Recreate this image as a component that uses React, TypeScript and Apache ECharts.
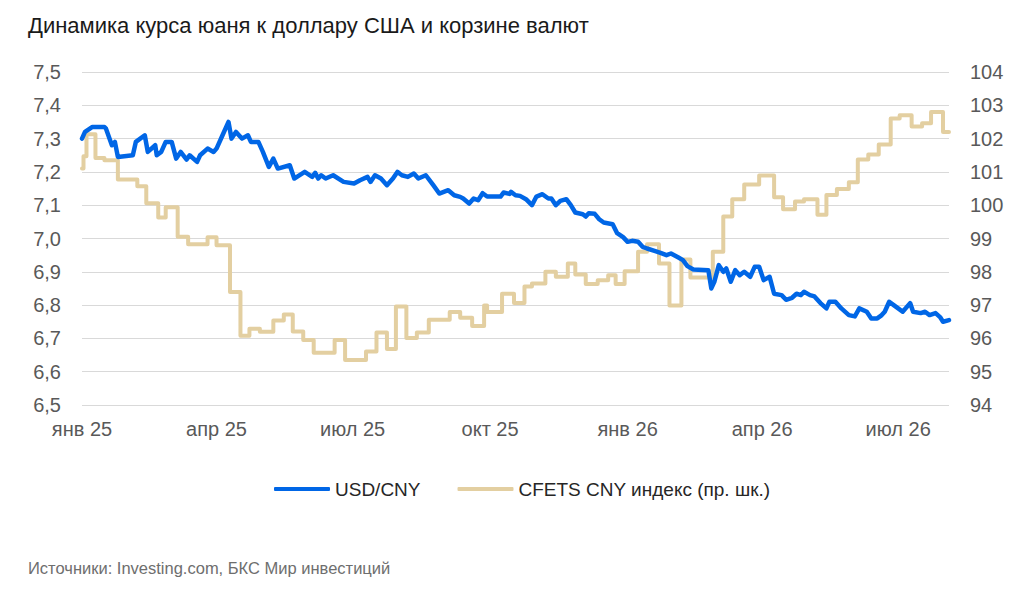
import React, { useEffect, useRef } from "react";
import * as echarts from "echarts";

const FONT = "'Liberation Sans', Arial, Helvetica, sans-serif";

const TITLE = "Динамика курса юаня к доллару США и корзине валют";
const SOURCE = "Источники: Investing.com, БКС Мир инвестиций";
const SERIES_NAMES = ["USD/CNY", "CFETS CNY индекс (пр. шк.)"];

const AXIS_START = "2025-01-01";
const AXIS_END = "2026-08-04";

const tickDates = ["2025-01-01", "2025-04-01", "2025-07-01", "2025-10-01", "2026-01-01", "2026-04-01", "2026-07-01"];
const tickLabels = ["янв 25", "апр 25", "июл 25", "окт 25", "янв 26", "апр 26", "июл 26"];

const usdDates = [
  "2025-01-01", "2025-01-03", "2025-01-08", "2025-01-16", "2025-01-17", "2025-01-21", "2025-01-23", "2025-01-25",
  "2025-02-04", "2025-02-06", "2025-02-12", "2025-02-14", "2025-02-19", "2025-02-20", "2025-02-23", "2025-02-26",
  "2025-03-02", "2025-03-05", "2025-03-08", "2025-03-12", "2025-03-14", "2025-03-19", "2025-03-21", "2025-03-26", "2025-03-30",
  "2025-04-01", "2025-04-05", "2025-04-09", "2025-04-11", "2025-04-14", "2025-04-18", "2025-04-22", "2025-04-24", "2025-04-29",
  "2025-05-02", "2025-05-06", "2025-05-09", "2025-05-12", "2025-05-20", "2025-05-23", "2025-05-30",
  "2025-06-04", "2025-06-06", "2025-06-08", "2025-06-10", "2025-06-13", "2025-06-18", "2025-06-25",
  "2025-07-02", "2025-07-06", "2025-07-11", "2025-07-13", "2025-07-16", "2025-07-20", "2025-07-24", "2025-07-28", "2025-07-31",
  "2025-08-03", "2025-08-07", "2025-08-11", "2025-08-14", "2025-08-19", "2025-08-24", "2025-08-28",
  "2025-09-03", "2025-09-07", "2025-09-11", "2025-09-13", "2025-09-17", "2025-09-20", "2025-09-23", "2025-09-26", "2025-09-29",
  "2025-10-08", "2025-10-10", "2025-10-14", "2025-10-15", "2025-10-18", "2025-10-21", "2025-10-25", "2025-10-29",
  "2025-11-01", "2025-11-05", "2025-11-09", "2025-11-11", "2025-11-14", "2025-11-17", "2025-11-21", "2025-11-24", "2025-11-27",
  "2025-12-02", "2025-12-04", "2025-12-06", "2025-12-10", "2025-12-13", "2025-12-16", "2025-12-22", "2025-12-25", "2025-12-29",
  "2026-01-01", "2026-01-04", "2026-01-08", "2026-01-11", "2026-01-14", "2026-01-19", "2026-01-23", "2026-01-27", "2026-01-30",
  "2026-02-04", "2026-02-07", "2026-02-10", "2026-02-14", "2026-02-24", "2026-02-26", "2026-02-28",
  "2026-03-03", "2026-03-06", "2026-03-08", "2026-03-11", "2026-03-14", "2026-03-17", "2026-03-20", "2026-03-24", "2026-03-27", "2026-03-30",
  "2026-04-02", "2026-04-06", "2026-04-09", "2026-04-14", "2026-04-17", "2026-04-21", "2026-04-24", "2026-04-27", "2026-04-29",
  "2026-05-03", "2026-05-06", "2026-05-10", "2026-05-14", "2026-05-16", "2026-05-20", "2026-05-24", "2026-05-29",
  "2026-06-02", "2026-06-05", "2026-06-10", "2026-06-13", "2026-06-17", "2026-06-20", "2026-06-22", "2026-06-25", "2026-06-28",
  "2026-07-01", "2026-07-04", "2026-07-09", "2026-07-11", "2026-07-16", "2026-07-19", "2026-07-22", "2026-07-26", "2026-07-29", "2026-07-31",
  "2026-08-04",
];
const usdValues = [
  7.30, 7.32, 7.335, 7.335, 7.33, 7.28, 7.29, 7.245,
  7.25, 7.29, 7.31, 7.26, 7.28, 7.25, 7.26, 7.29,
  7.29, 7.24, 7.26, 7.237, 7.25, 7.23, 7.25, 7.27, 7.26,
  7.27, 7.31, 7.35, 7.30, 7.32, 7.30, 7.31, 7.29, 7.29,
  7.26, 7.215, 7.24, 7.21, 7.22, 7.18, 7.20,
  7.185, 7.197, 7.18, 7.19, 7.18, 7.19, 7.17,
  7.165, 7.175, 7.185, 7.17, 7.19, 7.18, 7.16, 7.18, 7.20,
  7.19, 7.185, 7.195, 7.18, 7.19, 7.16, 7.135,
  7.145, 7.13, 7.125, 7.12, 7.105, 7.12, 7.115, 7.136, 7.126,
  7.126, 7.138, 7.134, 7.14, 7.13, 7.128, 7.118, 7.10,
  7.126, 7.133, 7.12, 7.12, 7.10, 7.113, 7.118, 7.10, 7.078,
  7.073, 7.066, 7.076, 7.074, 7.058, 7.048, 7.043, 7.016, 7.004,
  6.99, 6.993, 6.99, 6.975, 6.97, 6.963, 6.957, 6.95, 6.955,
  6.943, 6.935, 6.917, 6.907, 6.905, 6.85, 6.87,
  6.92, 6.90, 6.91, 6.87, 6.905, 6.89, 6.90, 6.885, 6.915, 6.915,
  6.875, 6.885, 6.834, 6.83, 6.816, 6.822, 6.834, 6.83, 6.84,
  6.83, 6.826, 6.806, 6.79, 6.81, 6.81, 6.79, 6.77,
  6.766, 6.79, 6.78, 6.76, 6.76, 6.77, 6.78, 6.81, 6.80,
  6.79, 6.78, 6.806, 6.78, 6.776, 6.78, 6.77, 6.776, 6.764, 6.75,
  6.755,
];

const cfetsDates = [
  "2025-01-01", "2025-01-02", "2025-01-04", "2025-01-10", "2025-01-16", "2025-01-25",
  "2025-02-07", "2025-02-13", "2025-02-21", "2025-02-26",
  "2025-03-06", "2025-03-13", "2025-03-26",
  "2025-04-01", "2025-04-10", "2025-04-17", "2025-04-23", "2025-04-30",
  "2025-05-09", "2025-05-16", "2025-05-22", "2025-05-29",
  "2025-06-05", "2025-06-19", "2025-06-26",
  "2025-07-10", "2025-07-17", "2025-07-24", "2025-07-30",
  "2025-08-06", "2025-08-13", "2025-08-21",
  "2025-09-04", "2025-09-11", "2025-09-19", "2025-09-27", "2025-09-29",
  "2025-10-09", "2025-10-17", "2025-10-24", "2025-10-29",
  "2025-11-07", "2025-11-14", "2025-11-22", "2025-11-27",
  "2025-12-04", "2025-12-12", "2025-12-19", "2025-12-24", "2025-12-30",
  "2026-01-08", "2026-01-14", "2026-01-22", "2026-01-29",
  "2026-02-06", "2026-02-12", "2026-02-27",
  "2026-03-06", "2026-03-12", "2026-03-20", "2026-03-30",
  "2026-04-09", "2026-04-15", "2026-04-23", "2026-04-29",
  "2026-05-08", "2026-05-14", "2026-05-21", "2026-05-29",
  "2026-06-04", "2026-06-11", "2026-06-18", "2026-06-26",
  "2026-07-02", "2026-07-10", "2026-07-17", "2026-07-23", "2026-07-31",
  "2026-08-04",
];
const cfetsValues = [
  101.1, 101.47, 102.13, 101.42, 101.35, 100.77,
  100.57, 100.06, 99.63, 99.94,
  99.05, 98.83, 99.04,
  98.8, 97.39, 96.08, 96.29, 96.2,
  96.54, 96.72, 96.21, 95.95,
  95.57, 95.95, 95.35,
  95.61, 96.18, 95.68, 96.96,
  96.01, 96.18, 96.56,
  96.79, 96.62, 96.37, 96.99, 96.79,
  97.34, 97.06, 97.56, 97.65,
  98.0, 97.85, 98.25, 97.92,
  97.63, 97.75, 97.9, 97.63, 98.02,
  98.6, 98.83, 98.25, 96.99,
  98.37, 97.83, 98.6,
  99.66, 100.18, 100.62, 100.89,
  100.24, 99.88, 100.11, 100.18,
  99.71, 100.31, 100.49, 100.69,
  101.37, 101.52, 101.82, 102.6,
  102.7, 102.36, 102.46, 102.8, 102.2,
  102.2,
];

function buildDays(start: string, end: string): string[] {
  const out: string[] = [];
  const d = new Date(start + "T00:00:00Z");
  const e = new Date(end + "T00:00:00Z");
  while (d.getTime() <= e.getTime()) {
    out.push(d.toISOString().slice(0, 10));
    d.setUTCDate(d.getUTCDate() + 1);
  }
  return out;
}

const zip = (xs: string[], ys: number[]) => xs.map((x, i) => [x, ys[i]]);

export default function App() {
  const ref = useRef<HTMLDivElement>(null);

  useEffect(() => {
    document.body.style.margin = "0";
    if (!ref.current) return;
    const chart = echarts.init(ref.current, null, { renderer: "svg" });
    const days = buildDays(AXIS_START, AXIS_END);

    const option: any = {
      animation: false,
      backgroundColor: "#ffffff",
      textStyle: { fontFamily: FONT },
      title: [
        {
          text: TITLE,
          left: 23,
          top: 9,
          textStyle: { fontFamily: FONT, fontSize: 22, fontWeight: "normal", color: "#1a1a1a" },
        },
        {
          text: SOURCE,
          left: 23,
          top: 554,
          textStyle: { fontFamily: FONT, fontSize: 16.5, fontWeight: "normal", color: "#6e6e6e" },
        },
      ],
      legend: {
        data: SERIES_NAMES,
        left: 269,
        top: 474,
        icon: "roundRect",
        itemWidth: 56,
        itemHeight: 4,
        itemGap: 37,
        textStyle: { fontFamily: FONT, fontSize: 19, color: "#262626", lineHeight: 20 },
      },
      grid: { left: 82, right: 75, top: 72, bottom: 186, containLabel: false },
      xAxis: {
        type: "category",
        data: days,
        boundaryGap: false,
        axisLine: { show: false },
        axisTick: { show: false },
        splitLine: { show: false },
        axisLabel: {
          interval: (_i: number, v: string) => tickDates.indexOf(v) >= 0,
          formatter: (v: string) => {
            const k = tickDates.indexOf(v);
            return k >= 0 ? tickLabels[k] : "";
          },
          margin: 14,
          fontSize: 20,
          fontFamily: FONT,
          color: "#595959",
        },
      },
      yAxis: [
        {
          type: "value",
          min: 6.5,
          max: 7.5,
          interval: 0.1,
          position: "left",
          axisLine: { show: false },
          axisTick: { show: false },
          splitLine: { show: true, lineStyle: { color: "#d9d9d9", width: 1 } },
          axisLabel: {
            margin: 21,
            fontSize: 20,
            fontFamily: FONT,
            color: "#595959",
            formatter: (v: number) => v.toFixed(1).replace(".", ","),
          },
        },
        {
          type: "value",
          min: 94,
          max: 104,
          interval: 1,
          position: "right",
          axisLine: { show: false },
          axisTick: { show: false },
          splitLine: { show: false },
          axisLabel: {
            margin: 21,
            fontSize: 20,
            fontFamily: FONT,
            color: "#595959",
            formatter: (v: number) => String(Math.round(v)),
          },
        },
      ],
      series: [
        {
          name: SERIES_NAMES[0],
          type: "line",
          yAxisIndex: 0,
          data: zip(usdDates, usdValues),
          showSymbol: false,
          symbol: "none",
          z: 3,
          lineStyle: { color: "#0066e6", width: 4.5, join: "round", cap: "round" },
          itemStyle: { color: "#0066e6" },
        },
        {
          name: SERIES_NAMES[1],
          type: "line",
          yAxisIndex: 1,
          step: "end",
          data: zip(cfetsDates, cfetsValues),
          showSymbol: false,
          symbol: "none",
          z: 2,
          lineStyle: { color: "#e3cfa1", width: 4, join: "round", cap: "round" },
          itemStyle: { color: "#e3cfa1" },
        },
      ],
    };

    chart.setOption(option);
    return () => chart.dispose();
  }, []);

  return <div ref={ref} style={{ width: 1024, height: 591 }} />;
}
